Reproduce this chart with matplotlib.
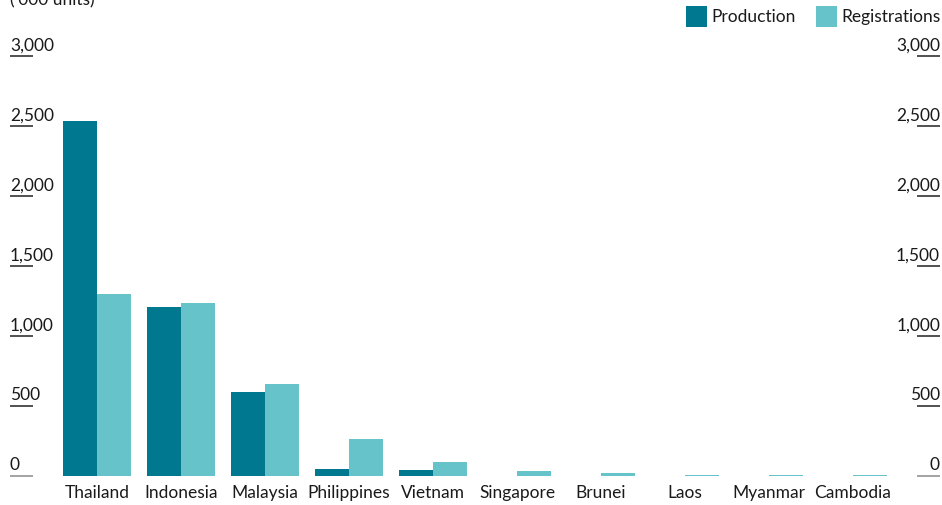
import matplotlib
matplotlib.use("Agg")
import matplotlib.pyplot as plt
import matplotlib.transforms as mtransforms
from matplotlib.patches import Rectangle
import numpy as np

plt.rcParams['font.family'] = ['Lato', 'DejaVu Sans']

# data ('000 units)
countries = ["Thailand", "Indonesia", "Malaysia", "Philippines", "Vietnam",
             "Singapore", "Brunei", "Laos", "Myanmar", "Cambodia"]
production = [2535, 1207, 600, 50, 43, 0, 0, 0, 0, 0]
registrations = [1300, 1236, 657, 264, 102, 38, 24, 5, 5, 5]
yticks = [0, 500, 1000, 1500, 2000, 2500, 3000]

col_prod = "#00788f"
col_reg = "#66c3ca"
txt = "#1a1a1a"
fs = 12.5

W, H = 942, 505
fig = plt.figure(figsize=(W / 100, H / 100), dpi=100)
# plot area: x 10..940 px, y 476 (0) .. 56 (3000) px
ax = fig.add_axes([10 / W, 1 - 476 / H, 930 / W, 420 / H])
ax.set_xlim(-1.036, 10.036)
ax.set_ylim(0, 3000)
for s in ax.spines.values():
    s.set_visible(False)
ax.set_xticks([])
ax.set_yticks([])

x = np.arange(len(countries))
bw = 0.4
ax.bar(x - bw / 2, production, bw, color=col_prod, linewidth=0)
ax.bar(x + bw / 2, registrations, bw, color=col_reg, linewidth=0)

# country labels
for i, c in enumerate(countries):
    ax.text(i, -62, c, ha="center", va="top", fontsize=fs, color=txt)

# y labels on both sides with short underlines
tr = mtransforms.blended_transform_factory(ax.transAxes, ax.transData)
tl = 23 / 930
for v in yticks:
    lc = "#8a8a8a" if v == 0 else "#222222"
    ax.plot([0, tl], [v, v], transform=tr, color=lc, lw=1.1, clip_on=False,
            solid_capstyle="butt")
    ax.plot([1 - tl, 1], [v, v], transform=tr, color=lc, lw=1.1, clip_on=False,
            solid_capstyle="butt")
    ax.text(0, v + 18, f"{v:,}", transform=tr, ha="left", va="bottom",
            fontsize=fs, color=txt)
    ax.text(1, v + 18, f"{v:,}", transform=tr, ha="right", va="bottom",
            fontsize=fs, color=txt)

# unit label, partly cut at the top as in the original
fig.text(10 / W, 1 - 5 / H, "('000 units)", ha="left", va="baseline",
         fontsize=fs, color=txt)

# legend
for px, lab, col in [(686, "Production", col_prod), (816, "Registrations", col_reg)]:
    fig.add_artist(Rectangle((px / W, 1 - 27 / H), 21 / W, 21 / H,
                             transform=fig.transFigure, color=col, lw=0))
    fig.text((px + 25) / W, 1 - 22 / H, lab, ha="left", va="baseline",
             fontsize=fs, color=txt)

fig.savefig("out.png", dpi=100)
